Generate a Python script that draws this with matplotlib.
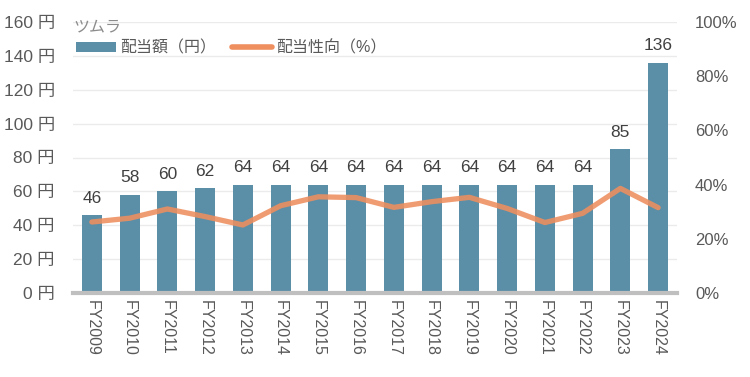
import matplotlib
matplotlib.use("Agg")
import matplotlib.pyplot as plt
from matplotlib.ticker import FuncFormatter
from matplotlib.patches import Patch
from matplotlib.lines import Line2D

plt.rcParams['font.family'] = ['Liberation Sans', 'Noto Sans CJK JP', 'DejaVu Sans']

years = ["FY2009", "FY2010", "FY2011", "FY2012", "FY2013", "FY2014", "FY2015", "FY2016",
         "FY2017", "FY2018", "FY2019", "FY2020", "FY2021", "FY2022", "FY2023", "FY2024"]
dividends = [46, 58, 60, 62, 64, 64, 64, 64, 64, 64, 64, 64, 64, 64, 85, 136]
payout = [26.2, 27.6, 31.0, 28.2, 25.1, 32.2, 35.5, 35.2, 31.6, 33.7, 35.3, 31.2, 26.0, 29.4, 38.6, 31.5]

company = "ツムラ"
bar_label = "配当額（円）"
line_label = "配当性向（%）"

bar_color = "#5B8FA8"
line_color = "#EF8E5E"
text_color = "#595959"

fig = plt.figure(figsize=(7.5, 3.77), dpi=100)
ax = fig.add_axes([73/750, 1-293/377, 604/750, 271/377])
ax2 = ax.twinx()

x = list(range(len(years)))
ax.bar(x, dividends, width=0.53, color=bar_color, zorder=2)
for xi, v in zip(x, dividends):
    ax.text(xi, v + 5.5, str(v), ha="center", va="bottom", fontsize=12.5, color="#404040")

ax2.plot(x, payout, color=line_color, alpha=0.88, linewidth=3.8, solid_capstyle="round",
         solid_joinstyle="round", zorder=3)

ax.set_xlim(-0.5, len(years) - 0.5)
ax.set_ylim(0, 160)
ax.set_yticks(range(0, 161, 20))
ax.yaxis.set_major_formatter(FuncFormatter(lambda v, p: f"{int(v)} 円"))
ax2.set_ylim(0, 100)
ax2.set_yticks(range(0, 101, 20))
ax2.yaxis.set_major_formatter(FuncFormatter(lambda v, p: f"{int(v)}%"))

ax.set_xticks(x)
ax.set_xticklabels(years, rotation=270, fontsize=11.5, color=text_color)
ax.grid(axis="y", color="#EBEBEB", linewidth=1, zorder=0)
ax.set_axisbelow(True)
for a in (ax, ax2):
    for s in ("top", "left", "right", "bottom"):
        a.spines[s].set_visible(False)
    a.tick_params(length=0)
ax.tick_params(axis="y", labelsize=12.5, labelcolor=text_color, pad=13)
ax2.tick_params(axis="y", labelsize=12, labelcolor=text_color, pad=13)
ax.tick_params(axis="x", pad=5)
ax.axhline(0, color="#BFBFBF", linewidth=3, zorder=4, clip_on=False)

ax.text(0.0, 1 - 5/271, company, transform=ax.transAxes, fontsize=11.5, color="#8C8C8C",
        ha="left", va="center")
handles = [Patch(facecolor=bar_color, edgecolor="none"),
           Line2D([0], [0], color=line_color, linewidth=4, solid_capstyle="round")]
leg = ax2.legend(handles, [bar_label, line_label], loc="center left",
                 bbox_to_anchor=(-0.013, 1 - 26/271), frameon=False, fontsize=11.5, ncol=2,
                 handlelength=2.5, handleheight=0.62, handletextpad=0.25, columnspacing=1.0,
                 labelcolor=text_color, borderpad=0.2)

fig.savefig("out.png", dpi=100)
